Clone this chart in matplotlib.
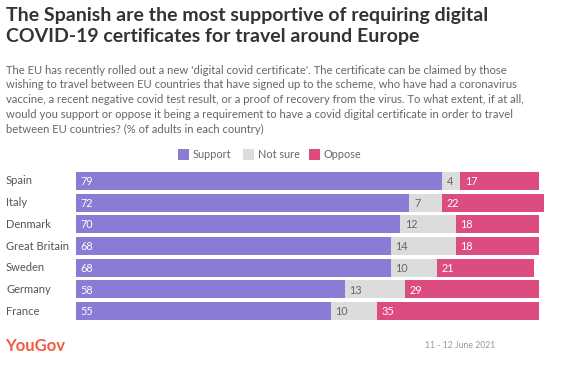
import matplotlib.pyplot as plt
from matplotlib.patches import Rectangle

countries = ['Spain', 'Italy', 'Denmark', 'Great Britain', 'Sweden', 'Germany', 'France']
support = [79, 72, 70, 68, 68, 58, 55]
not_sure = [4, 7, 12, 14, 10, 13, 10]
oppose = [17, 22, 18, 18, 21, 29, 35]

C_SUPPORT = '#8a7cd4'
C_NOTSURE = '#dcdcdc'
C_OPPOSE = '#dc4c80'

plt.rcParams['font.family'] = ['Lato', 'DejaVu Sans']

W, H = 575, 373
fig = plt.figure(figsize=(W / 100, H / 100), dpi=100)


def fx(px):
    return px / W


def fy(py):
    return 1 - py / H


fig.text(fx(6), fy(7), 'The Spanish are the most supportive of requiring digital\nCOVID-19 certificates for travel around Europe',
         fontsize=14, fontweight='bold', color='#333333', va='top', ha='left', linespacing=1.28)

subtitle = ("The EU has recently rolled out a new 'digital covid certificate'. The certificate can be claimed by those\n"
            "wishing to travel between EU countries that have signed up to the scheme, who have had a coronavirus\n"
            "vaccine, a recent negative covid test result, or a proof of recovery from the virus. To what extent, if at all,\n"
            "would you support or oppose it being a requirement to have a covid digital certificate in order to travel\n"
            "between EU countries? (% of adults in each country)")
fig.text(fx(6), fy(64.5), subtitle, fontsize=8.15, color='#666666', va='top', ha='left', linespacing=1.44)

# legend
for x0, label, col in [(178, 'Support', C_SUPPORT), (243, 'Not sure', C_NOTSURE), (309, 'Oppose', C_OPPOSE)]:
    fig.patches.append(Rectangle((fx(x0), fy(160)), 11 / W, 11 / H, transform=fig.transFigure,
                                 facecolor=col, edgecolor='none'))
    fig.text(fx(x0 + 15), fy(154.5), label, fontsize=7.8, color='#666666', va='center', ha='left')

# bars
row = 21.67
top = 181 - row / 2
ax = fig.add_axes([fx(76), fy(top + row * 7), 463 / W, row * 7 / H])
ax.set_xlim(0, 100)
ax.set_ylim(6.5, -0.5)
ax.axis('off')

ys = range(len(countries))
left2 = list(support)
left3 = [s + n for s, n in zip(support, not_sure)]
for vals, lefts, col in [(support, None, C_SUPPORT), (not_sure, left2, C_NOTSURE), (oppose, left3, C_OPPOSE)]:
    bars = ax.barh(ys, vals, left=lefts, height=0.83, color=col)
    for b in bars:
        b.set_clip_on(False)

for i, name in enumerate(countries):
    ax.text(-15.1, i, name, fontsize=8, color='#555555', va='center', ha='left')
    ax.text(1.0, i + 0.03, str(support[i]), fontsize=7.8, color='white', va='center', ha='left')
    ax.text(left2[i] + 1.0, i + 0.03, str(not_sure[i]), fontsize=7.8, color='#666666', va='center', ha='left')
    ax.text(left3[i] + 1.0, i + 0.03, str(oppose[i]), fontsize=7.8, color='white', va='center', ha='left')

# footer
fig.text(fx(5), fy(346), 'YouGov', fontsize=12, fontweight='bold', color='#f35a44', va='center', ha='left')
fig.text(fx(495), fy(346), '11 - 12 June 2021', fontsize=6.2, color='#999999', va='center', ha='right')

fig.savefig('out.png', dpi=100)
